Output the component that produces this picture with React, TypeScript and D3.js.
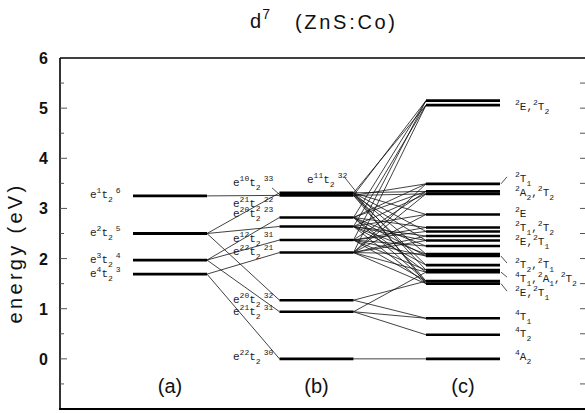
import React from 'react'
import * as d3 from 'd3'

// energy levels (eV) for the three columns
const columns = ['a', 'b', 'c']

const levelsA = [3.25, 2.5, 1.97, 1.69]
const labelsA = ['e^1t_2^6', 'e^2t_2^5', 'e^3t_2^4', 'e^4t_2^3']

const levelsB = [3.26, 3.31, 2.82, 2.64, 2.37, 2.12, 1.17, 0.94, 0.0]
const labelsB = [
  'e^{10}t_2^{33}', 'e^{11}t_2^{32}', 'e^{21}t_2^{22}', 'e^{20}t_2^{23}', 'e^{12}t_2^{31}',
  'e^{22}t_2^{21}', 'e^{20}t_2^{32}', 'e^{21}t_2^{31}', 'e^{22}t_2^{30}',
]
const labelEnergyB = [3.45, 3.51, 3.03, 2.83, 2.33, 2.07, 1.11, 0.875, -0.02]

const levelsC = [
  5.15, 5.06, 3.49, 3.34, 3.29, 2.88, 2.62, 2.54, 2.45, 2.36, 2.25,
  2.09, 2.05, 1.87, 1.77, 1.73, 1.55, 1.5, 0.81, 0.48, 0.0,
]
const labelsC = [
  '^2E,^2T_2', '^2T_1', '^2A_2,^2T_2', '^2E', '^2T_1,^2T_2', '^2E,^2T_1',
  '^2T_2,^2T_1', '^4T_1,^2A_1,^2T_2', '^2E,^2T_1', '^4T_1', '^4T_2', '^4A_2',
]
const labelEnergyC = [4.96, 3.53, 3.25, 2.83, 2.55, 2.27, 1.81, 1.53, 1.25, 0.775, 0.435, -0.02]
// [level index in c, label index]
const leadersC = [[2, 1], [12, 6], [15, 7], [17, 8]]

// correlation lines a -> b  [a index, b index]
const linksAB = [[0, 0], [1, 1], [1, 3], [1, 6], [2, 2], [2, 4], [2, 7], [3, 5], [3, 8]]

// correlation lines b -> c  [b index, c index]
const linksBC = [
  [0, 0], [0, 2], [0, 4], [0, 9], [0, 13], [0, 16],
  [1, 1], [1, 3], [1, 5], [1, 7], [1, 11], [1, 14], [1, 17],
  [2, 0], [2, 2], [2, 3], [2, 6], [2, 10], [2, 12], [2, 15], [2, 16],
  [3, 1], [3, 4], [3, 5], [3, 8], [3, 9], [3, 11], [3, 13], [3, 17],
  [4, 0], [4, 3], [4, 6], [4, 7], [4, 10], [4, 12], [4, 14], [4, 16],
  [5, 1], [5, 2], [5, 4], [5, 5], [5, 8], [5, 9], [5, 11], [5, 15], [5, 17],
  [6, 16], [6, 18],
  [7, 15], [7, 18], [7, 19],
  [8, 20],
]

const yTicks = [0, 1, 2, 3, 4, 5, 6]
const columnNames = ['(a)', '(b)', '(c)']

const W = 585
const H = 413
const left = 60
const right = 587
const top = 58
const bottom = 409

const y = d3.scaleLinear().domain([-1, 6]).range([bottom, top])
const x = d3.scalePoint().domain(columns).range([170, 463])
const half = 37

const labelFont = '"Liberation Mono", "DejaVu Sans Mono", monospace'
const sansFont = '"Liberation Sans", Arial, Helvetica, sans-serif'

// "e^{10}t_2^{33}" -> segments
function parse(s) {
  const out = []
  let i = 0
  while (i < s.length) {
    const c = s[i]
    if (c === '^' || c === '_') {
      let t
      if (s[i + 1] === '{') {
        const j = s.indexOf('}', i)
        t = s.slice(i + 2, j)
        i = j + 1
      } else {
        t = s[i + 1]
        i += 2
      }
      out.push({ t, k: c === '^' ? 'sup' : 'sub' })
    } else {
      out.push({ t: c, k: 'n' })
      i++
    }
  }
  return out
}

const Label = ({ text, x0, y0 }) => {
  const segs = parse(text)
  let prev = 0
  let prevKind = 'n'
  return (
    <text x={x0} y={y0} fontFamily={labelFont} fontSize={11} fill="#222">
      {segs.map((s, i) => {
        const off = s.k === 'sup' ? -5 : s.k === 'sub' ? 4 : 0
        const dy = off - prev
        const dx = s.k === 'sup' && prevKind === 'sub' ? 3 : 0
        prev = off
        prevKind = s.k
        return (
          <tspan key={i} dy={dy} dx={dx} fontSize={s.k === 'n' ? 11 : 8}>{s.t}</tspan>
        )
      })}
    </text>
  )
}

const App = () => {
  const xa = x('a')
  const xb = x('b')
  const xc = x('c')

  const minorTicks = d3.range(-0.5, 6, 0.5)

  return (
    <svg width={W} height={H} style={{ position: 'absolute', left: 0, top: 0, background: '#fff' }}>
      {/* title */}
      <text x={250} y={28} fontFamily={sansFont} fontSize={20} fill="#111">
        d<tspan fontSize={14} dy={-9} dx={1}>7</tspan>
      </text>
      <text x={295} y={29} fontFamily={sansFont} fontSize={20} letterSpacing={2.7} fill="#111">(ZnS:Co)</text>

      {/* y axis label */}
      <text transform="translate(22,253) rotate(-90)" textAnchor="middle" fontFamily={sansFont}
        fontSize={20} letterSpacing={3.3} fill="#111">energy (eV)</text>

      {/* frame */}
      <line x1={left} x2={left} y1={top} y2={bottom} stroke="#000" strokeWidth={1.6} />
      <line x1={left} x2={right} y1={top} y2={top} stroke="#000" strokeWidth={1.6} />
      <line x1={left - 1} x2={right} y1={bottom} y2={bottom} stroke="#000" strokeWidth={2} />

      {minorTicks.map(v => {
        const major = Number.isInteger(v)
        return (
          <g key={v}>
            <line x1={left} x2={left + (major ? 7 : 4)} y1={y(v)} y2={y(v)} stroke="#555" strokeWidth={1} />
            <line x1={580} x2={587} y1={y(v)} y2={y(v)} stroke="#555" strokeWidth={1} />
          </g>
        )
      })}
      {yTicks.map(v => (
        <text key={v} x={48} y={y(v) + 6} textAnchor="end" fontFamily={sansFont} fontWeight="bold"
          fontSize={16} fill="#111">{v}</text>
      ))}

      {/* correlation lines */}
      {linksAB.map(([i, j], k) => (
        <line key={'ab' + k} x1={xa + half} y1={y(levelsA[i])} x2={xb - half} y2={y(levelsB[j])}
          stroke="#111" strokeWidth={0.8} />
      ))}
      {linksBC.map(([i, j], k) => (
        <line key={'bc' + k} x1={xb + half} y1={y(levelsB[i])} x2={xc - half} y2={y(levelsC[j])}
          stroke="#111" strokeWidth={0.8} />
      ))}

      {/* levels */}
      {levelsA.map((v, i) => (
        <line key={'la' + i} x1={xa - half} x2={xa + half} y1={y(v)} y2={y(v)} stroke="#000" strokeWidth={2.8} />
      ))}
      {levelsB.map((v, i) => (
        <line key={'lb' + i} x1={xb - half} x2={xb + half} y1={y(v)} y2={y(v)} stroke="#000" strokeWidth={2.6} />
      ))}
      {levelsC.map((v, i) => (
        <line key={'lc' + i} x1={xc - half} x2={xc + half} y1={y(v)} y2={y(v)} stroke="#000" strokeWidth={2.6} />
      ))}

      {/* labels a */}
      {labelsA.map((s, i) => (
        <Label key={'ta' + i} text={s} x0={90} y0={y(levelsA[i]) + 2.5} />
      ))}
      {/* labels b */}
      {labelsB.map((s, i) => (
        <Label key={'tb' + i} text={s} x0={i === 1 ? 307 : 233} y0={y(labelEnergyB[i])} />
      ))}
      <line x1={272} y1={y(labelEnergyB[0]) + 2} x2={xb - half + 1} y2={y(levelsB[0])} stroke="#222" strokeWidth={0.8} />
      <line x1={345} y1={y(labelEnergyB[1]) - 5} x2={357} y2={y(levelsB[1])} stroke="#222" strokeWidth={0.8} />

      {/* labels c */}
      {labelsC.map((s, i) => (
        <Label key={'tc' + i} text={s} x0={515} y0={y(labelEnergyC[i])} />
      ))}
      {leadersC.map(([li, ti], k) => (
        <line key={'ld' + k} x1={xc + half + 1} y1={y(levelsC[li])} x2={xc + half + 7}
          y2={y(labelEnergyC[ti]) - 5} stroke="#222" strokeWidth={0.8} />
      ))}

      {/* column names */}
      {columns.map((c, i) => (
        <text key={c} x={x(c)} y={393} textAnchor="middle" fontFamily={sansFont} fontSize={20} fill="#111">
          {columnNames[i]}
        </text>
      ))}
    </svg>
  )
}

export default App
